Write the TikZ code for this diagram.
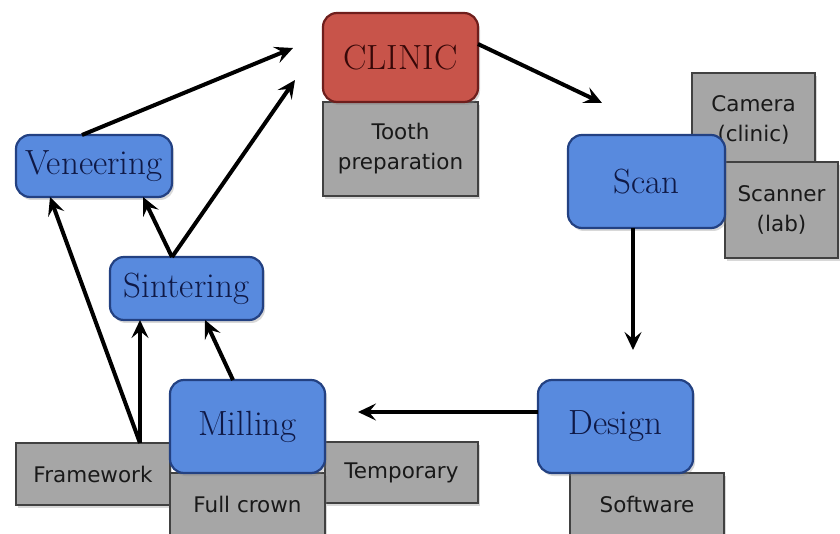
\documentclass[tikz,border=0pt]{standalone}
\usepackage{fontspec}
\newfontfamily\graysf{DejaVu Sans}
\usetikzlibrary{arrows.meta,shadows}
\definecolor{bluefill}{RGB}{88,138,222}
\definecolor{blueline}{RGB}{35,65,130}
\definecolor{bluetext}{RGB}{15,25,70}
\definecolor{redfill}{RGB}{200,84,74}
\definecolor{redline}{RGB}{110,30,28}
\definecolor{redtext}{RGB}{55,8,8}
\definecolor{grayfill}{RGB}{166,166,166}
\definecolor{grayline}{RGB}{65,65,65}
\definecolor{graytext}{RGB}{25,25,25}
\tikzset{
 box/.style={draw, line width=2.2pt, inner sep=0pt, outer sep=0pt, align=center,
   drop shadow={shadow xshift=2pt,shadow yshift=-3pt,opacity=0.3}},
 stepbox/.style={box, rounded corners=14pt, fill=bluefill, draw=blueline, text=bluetext,
   font=\fontsize{35}{40}\selectfont},
 clinicbox/.style={stepbox, fill=redfill, draw=redline, text=redtext},
 graybox/.style={box, fill=grayfill, draw=grayline, text=graytext,
   font=\graysf\fontsize{21.5}{30}\selectfont},
 arr/.style={-{Stealth[length=18pt,width=17pt,inset=7pt]}, line width=4pt, black},
}
\begin{document}
\begin{tikzpicture}[x=1pt,y=-1pt]
\clip (0,0) rectangle (840,534);
\fill[white] (0,0) rectangle (840,534);
% gray boxes behind
\node[graybox, minimum width=155pt, minimum height=94pt] (tooth) at (400.5,149) {Tooth\\preparation};
\node[graybox, minimum width=123pt, minimum height=94pt] (camera) at (753.5,120) {Camera\\(clinic)};
\node[graybox, minimum width=113pt, minimum height=96pt] (scanner) at (781.5,210) {Scanner\\(lab)};
\node[graybox, minimum width=154pt, minimum height=70pt] (software) at (647,508) {\raisebox{8pt}{Software}};
\node[graybox, minimum width=154pt, minimum height=62pt] (framework) at (93,474) {Framework};
\node[graybox, minimum width=153pt, minimum height=61pt] (temporary) at (401.5,472.5) {Temporary};
\node[graybox, minimum width=155pt, minimum height=70pt] (fullcrown) at (247.5,508) {\raisebox{8pt}{Full crown}};
% step boxes
\node[clinicbox, minimum width=155pt, minimum height=89pt] (clinic) at (400.5,57.5) {CLINIC};
\node[stepbox, minimum width=157pt, minimum height=93pt] (scan) at (646.5,181.5) {Scan};
\node[stepbox, minimum width=155pt, minimum height=93pt] (design) at (615.5,426.5) {Design};
\node[stepbox, minimum width=155pt, minimum height=93pt] (milling) at (247.5,426.5) {Milling};
\node[stepbox, minimum width=156pt, minimum height=62pt] (veneer) at (94,166) {Veneering};
\node[stepbox, minimum width=153pt, minimum height=63pt] (sinter) at (186.5,288.5) {Sintering};
% free ends
\coordinate (c1) at (293,48);
\coordinate (c2) at (295,80);
\coordinate (scanin) at (602,103);
\coordinate (designin) at (633,350);
\coordinate (millin) at (358,412);
% arrows
\draw[arr] (veneer.north -| 82,0) -- (c1);
\draw[arr] (sinter.north -| 172,0) -- (c2);
\draw[arr] (sinter.north -| 172,0) -- (veneer.south -| 143,0);
\draw[arr] (framework.north -| 140,0) -- (veneer.south -| 50,0);
\draw[arr] (framework.north -| 140,0) -- (sinter.south -| 140,0);
\draw[arr] (milling.north -| 233,0) -- (sinter.south -| 205,0);
\draw[arr] (clinic.east |- 0,44) -- (scanin);
\draw[arr] (scan.south -| 633,0) -- (designin);
\draw[arr] (design.west |- 0,412) -- (millin);
\end{tikzpicture}
\end{document}
